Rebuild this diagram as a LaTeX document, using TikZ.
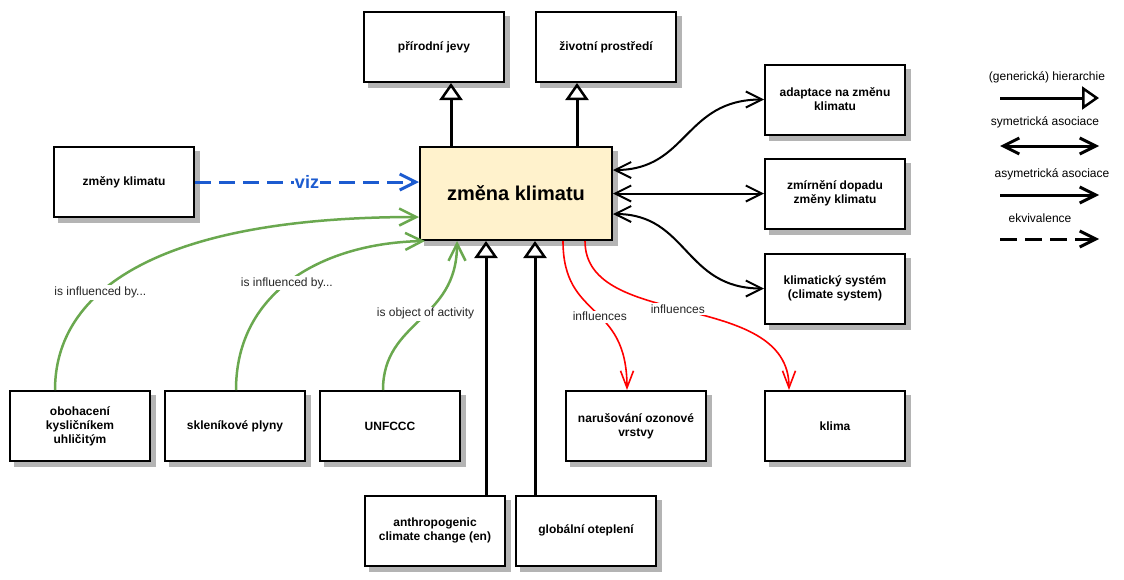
\documentclass[tikz,border=0pt]{standalone}
\usepackage{fontspec}
\setmainfont{Liberation Sans}
\usetikzlibrary{arrows.meta}
\definecolor{shadowgray}{RGB}{180,180,180}
\definecolor{mainfill}{HTML}{FFF2CC}
\definecolor{grn}{HTML}{6AA84F}
\definecolor{blu}{HTML}{1C5BD0}
\begin{document}
\begin{tikzpicture}[x=1pt,y=-1pt,
  box/.style={draw, line width=2pt, fill=white, minimum width=140pt, minimum height=70pt,
    align=center, font=\bfseries\fontsize{12}{14}\selectfont},
  mainbox/.style={box, fill=mainfill, minimum width=192pt, minimum height=93pt,
    font=\bfseries\fontsize{20}{23}\selectfont},
  shadowfill/.style={fill=shadowgray},
  hier/.style={line width=3pt, -{Triangle[open, length=17pt, width=23pt, line width=2.5pt]}},
  barb/.tip={Straight Barb[length=16pt, width=16pt]},
  sym/.style={line width=2pt, {barb}-{barb}},
  asym/.style={line width=3pt, -{barb}},
  equiv/.style={line width=3pt, dash pattern=on 17pt off 8pt, -{barb}},
  greenarr/.style={grn, line width=2.5pt, -{Straight Barb[length=17pt, width=17pt]}},
  redarr/.style={red, line width=1.6pt, -{Straight Barb[length=17pt, width=13pt]}},
  lbl/.style={fill=white, inner sep=1.5pt, text=black!85, font=\fontsize{12}{14}\selectfont},
  legtxt/.style={font=\fontsize{12}{14}\selectfont}
]
\useasboundingbox (0,0) rectangle (1124,579);

\node[box] (prir) at (434,47) {přírodní jevy};
\node[box] (ziv) at (606,47) {životní prostředí};
\node[mainbox] (main) at (516,193.5) {změna klimatu};
\node[box] (zmeny) at (124,182) {změny klimatu};
\node[box] (adapt) at (835,99.5) {adaptace na změnu\\klimatu};
\node[box] (zmir) at (835,193.5) {zmírnění dopadu\\změny klimatu};
\node[box] (ksys) at (835,288.5) {klimatický systém\\(climate system)};
\node[box] (oboh) at (80,426) {obohacení\\kysličníkem\\uhličitým};
\node[box] (skl) at (235,426) {skleníkové plyny};
\node[box] (unf) at (390,426) {UNFCCC};
\node[box] (naru) at (636,426) {narušování ozonové\\vrstvy};
\node[box] (klima) at (835,426) {klima};
\node[box] (anth) at (435,530.5) {anthropogenic\\climate change (en)};
\node[box] (glob) at (586,530.5) {globální oteplení};

% shadows: strips along the right and bottom edges
\foreach \n in {prir,ziv,main,zmeny,adapt,zmir,ksys,oboh,skl,unf,naru,klima,anth,glob}{
  \fill[shadowfill] ([yshift=-5pt]\n.north east) rectangle ([shift={(5pt,-5pt)}]\n.south east);
  \fill[shadowfill] ([xshift=5pt]\n.south west) rectangle ([shift={(5pt,-5pt)}]\n.south east);
}

% hierarchy
\draw[hier] ([xshift=-65pt]main.north) -- ([xshift=17pt]prir.south);
\draw[hier] ([xshift=61pt]main.north) -- ([xshift=-29pt]ziv.south);
\draw[hier] ([xshift=51pt]anth.north) -- ([xshift=-30pt]main.south);
\draw[hier] ([xshift=-51pt]glob.north) -- ([xshift=19pt]main.south);

% equivalence (blue)
\draw[blu, line width=3pt, dash pattern=on 16pt off 8pt, -{Straight Barb[length=16pt, width=16pt]}]
  (zmeny.east) -- node[fill=white, text=blu, inner sep=1pt, font=\bfseries\fontsize{18}{20}\selectfont]{viz} (main.west |- zmeny.east);

% symmetric associations
\draw[sym] ([yshift=23.5pt]main.east) .. controls +(75,0) and +(-80,0) .. (adapt.west);
\draw[sym] (main.east) -- (zmir.west);
\draw[sym] ([yshift=-20.5pt]main.east) .. controls +(75,0) and +(-80,0) .. (ksys.west);

% green
\draw[greenarr] ([xshift=-25pt]oboh.north) .. controls +(0,-100) and +(-260,0) ..
  node[pos=0.37, lbl]{is influenced by...} ([yshift=-23.5pt]main.west);
\draw[greenarr] ([xshift=1pt]skl.north) .. controls +(0,-100) and +(-100,2) ..
  node[pos=0.47, lbl]{is influenced by...} ([xshift=6pt]main.south west);
\draw[greenarr] ([xshift=-7pt]unf.north) .. controls +(0,-70) and +(0,80) ..
  node[pos=0.55, lbl]{is object of activity} ([xshift=-59pt]main.south);

% red
\draw[redarr] ([xshift=47pt]main.south) .. controls +(0,80) and +(0,-90) ..
  node[pos=0.55, lbl]{influences} ([xshift=-9pt]naru.north);
\draw[redarr] ([xshift=69pt]main.south) .. controls +(0,90) and +(0,-101) ..
  node[pos=0.47, lbl]{influences} ([xshift=-46pt]klima.north);

% legend
\node[legtxt] (lt1) at (1047,77) {(generická) hierarchie};
\coordinate (l1a) at (1000,98); \coordinate (l1b) at (1099,98);
\draw[hier] (l1a) -- (l1b);
\node[legtxt] (lt2) at (1045,122) {symetrická asociace};
\coordinate (l2a) at (1000,146); \coordinate (l2b) at (1099,146);
\draw[sym, line width=3pt] (l2a) -- (l2b);
\node[legtxt] (lt3) at (1052,174) {asymetrická asociace};
\coordinate (l3a) at (1000,195); \coordinate (l3b) at (1099,195);
\draw[asym] (l3a) -- (l3b);
\node[legtxt] (lt4) at (1040,218) {ekvivalence};
\coordinate (l4a) at (1000,239); \coordinate (l4b) at (1099,239);
\draw[equiv] (l4a) -- (l4b);
\end{tikzpicture}
\end{document}
